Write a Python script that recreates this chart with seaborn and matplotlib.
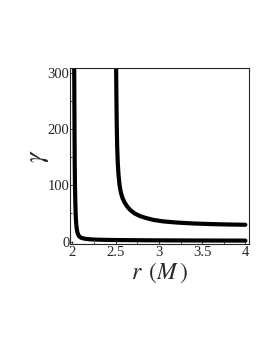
import numpy as np
import pandas as pd
import seaborn as sns
import matplotlib.pyplot as plt
from matplotlib.ticker import MultipleLocator

# values
r_inner = [2.020, 2.022, 2.024, 2.026, 2.029, 2.033, 2.038, 2.043, 2.050, 2.058, 2.068,
           2.08, 2.10, 2.13, 2.17, 2.22, 2.30, 2.45, 2.65, 2.9, 3.2, 3.6, 4.0]
g_inner = [310, 250, 190, 140, 100, 70, 45, 32, 22, 16, 12,
           9, 7, 5.6, 4.7, 4.0, 3.5, 3.0, 2.7, 2.4, 2.2, 2.0, 1.9]

r_outer = [2.505, 2.508, 2.512, 2.517, 2.524, 2.533, 2.545, 2.56, 2.58, 2.605, 2.635,
           2.67, 2.72, 2.78, 2.85, 2.94, 3.05, 3.2, 3.4, 3.6, 3.8, 4.0]
g_outer = [310, 260, 210, 170, 140, 118, 100, 87, 77, 69, 62,
           56, 50, 45.5, 42, 38.5, 36, 34, 32.3, 31.2, 30.5, 30]

df = pd.concat([
    pd.DataFrame({"r": r_inner, "gamma": g_inner, "branch": "inner"}),
    pd.DataFrame({"r": r_outer, "gamma": g_outer, "branch": "outer"}),
])

sns.set_style("ticks")
plt.rcParams["font.family"] = ["Liberation Serif", "DejaVu Serif"]
plt.rcParams["mathtext.fontset"] = "stix"

fig = plt.figure(figsize=(2.73, 3.53), dpi=100)
ax = fig.add_axes([0.255, 0.309, 0.658, 0.498])

sns.lineplot(data=df, x="r", y="gamma", hue="branch", palette=["black", "black"],
             linewidth=3.0, legend=False, sort=False, estimator=None, ax=ax)

ax.set_xlim(1.967, 4.045)
ax.set_ylim(-4, 308)
ax.set_xticks([2, 2.5, 3, 3.5, 4])
ax.set_xticklabels(["2", "2.5", "3", "3.5", "4"])
ax.set_yticks([0, 100, 200, 300])
ax.yaxis.set_minor_locator(MultipleLocator(50))
ax.xaxis.set_minor_locator(MultipleLocator(0.25))
ax.tick_params(which="both", direction="in", labelsize=10.5, width=0.6)
ax.tick_params(which="major", length=2.5)
ax.tick_params(axis="x", which="major", pad=1.5)
ax.tick_params(axis="y", which="major", pad=0)
ax.tick_params(which="minor", length=1.5)
for s in ax.spines.values():
    s.set_linewidth(0.8)

ax.set_xlabel(r"$r\ \,(M\,)$", fontsize=17, labelpad=1)
ax.set_ylabel(r"$\gamma$", fontsize=19, labelpad=-2)

fig.savefig("out.png", dpi=100)
